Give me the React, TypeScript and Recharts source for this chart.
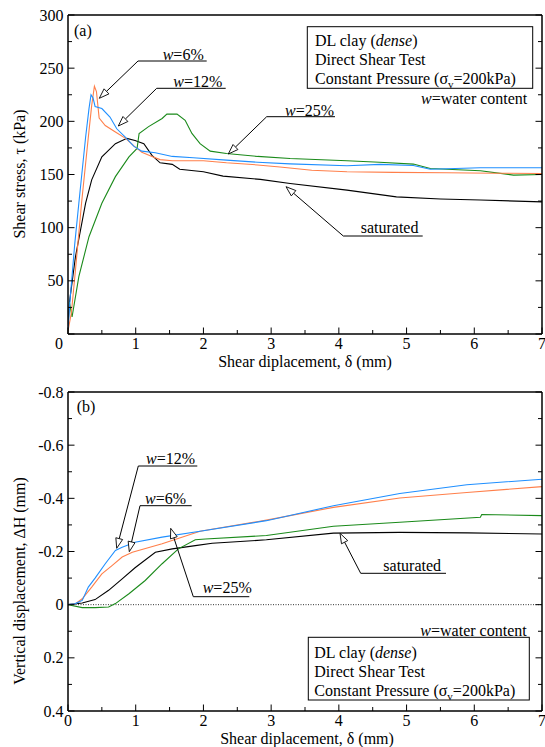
import { Line, LineChart, ReferenceLine, XAxis, YAxis } from "recharts";

const FONT = "'Liberation Serif', 'Times New Roman', serif";
const BLUE = "#1f8fff";
const ORANGE = "#ff7f4a";
const GREEN = "#1a8a1a";
const BLACK = "#000000";

// shared x ticks (major every 1 mm, minor every 0.5 mm)
const dispTicks = [0, 0.5, 1, 1.5, 2, 2.5, 3, 3.5, 4, 4.5, 5, 5.5, 6, 6.5, 7];
const tauTicks = [0, 25, 50, 75, 100, 125, 150, 175, 200, 225, 250, 275, 300];
const dhTicks = [-0.8, -0.7, -0.6, -0.5, -0.4, -0.3, -0.2, -0.1, 0, 0.1, 0.2, 0.3, 0.4];

// (a) shear stress vs shear displacement
const dispA6 = [0, 0.05, 0.11, 0.2, 0.3, 0.35, 0.39, 0.42, 0.46, 0.55, 0.7, 0.85, 0.99, 1.09, 1.24, 1.36, 1.54, 1.8, 2.0, 2.34, 2.8, 3.13, 3.6, 4.12, 4.8, 5.59, 6.3, 7];
const tau6 = [3, 20, 60, 123, 185, 215, 233, 228, 203, 196, 190, 184, 176, 171, 167, 164, 163, 163, 163, 161, 159, 157, 154, 152.6, 152, 151.6, 151.2, 151];

const dispA12 = [0, 0.03, 0.1, 0.16, 0.26, 0.31, 0.34, 0.37, 0.4, 0.5, 0.62, 0.72, 0.85, 0.97, 1.09, 1.29, 1.54, 1.85, 2.34, 2.8, 3.28, 4.12, 4.61, 5.1, 5.35, 6.09, 7];
const tau12 = [5, 32, 85, 123, 185, 212, 225, 222, 214, 212, 204, 193, 185, 176.7, 172, 170.4, 167, 165.7, 163.5, 161.5, 160, 158.2, 159.5, 158.5, 155, 156.3, 156.3];

const dispA25 = [0.02, 0.06, 0.16, 0.31, 0.5, 0.7, 0.9, 1.02, 1.05, 1.19, 1.39, 1.46, 1.61, 1.73, 1.83, 1.95, 2.1, 2.34, 2.8, 3.28, 4.12, 4.6, 5.1, 5.35, 6.09, 6.58, 7];
const tau25 = [30, 16, 54, 91.5, 123, 148, 166.6, 174.5, 188.6, 195, 202.7, 206.8, 206.8, 201, 188.6, 179, 172, 169.8, 167, 165, 163, 161.5, 159.8, 155.7, 153.5, 149.4, 150];

const dispASat = [0, 0.02, 0.11, 0.26, 0.35, 0.5, 0.7, 0.87, 0.99, 1.12, 1.24, 1.36, 1.54, 1.65, 2.0, 2.29, 2.84, 3.28, 4.12, 4.85, 5.5, 6.09, 7];
const tauSat = [5, 29, 72.6, 123, 145, 166.6, 179, 184, 182, 179, 168, 161, 159.5, 155, 152.6, 148.5, 145.4, 141.6, 135.3, 129, 127, 126, 124.3];

// (b) vertical displacement vs shear displacement
const dispB12 = [0, 0.1, 0.21, 0.3, 0.4, 0.55, 0.7, 0.8, 0.99, 1.39, 1.95, 2.93, 3.92, 4.9, 5.89, 7];
const dh12 = [0, -0.003, -0.016, -0.066, -0.1, -0.154, -0.204, -0.216, -0.235, -0.254, -0.276, -0.316, -0.372, -0.418, -0.451, -0.472];

const dispB6 = [0, 0.1, 0.21, 0.35, 0.5, 0.65, 0.8, 0.95, 1.39, 1.95, 2.93, 3.92, 4.9, 5.89, 7];
const dh6 = [0, -0.002, -0.022, -0.066, -0.116, -0.147, -0.179, -0.197, -0.229, -0.276, -0.318, -0.366, -0.401, -0.422, -0.444];

const dispB25 = [0, 0.21, 0.4, 0.6, 0.7, 0.9, 1.14, 1.39, 1.63, 1.88, 2.03, 2.93, 3.92, 4.9, 6.09, 6.11, 7];
const dh25 = [0, 0.011, 0.011, 0.009, -0.004, -0.041, -0.091, -0.154, -0.21, -0.244, -0.247, -0.26, -0.295, -0.31, -0.329, -0.339, -0.335];

const dispBSat = [0, 0.21, 0.4, 0.6, 0.8, 0.99, 1.29, 1.54, 1.88, 2.13, 2.93, 3.92, 4.9, 5.9, 7];
const dhSat = [0, -0.006, -0.019, -0.054, -0.097, -0.139, -0.197, -0.21, -0.222, -0.231, -0.244, -0.269, -0.272, -0.27, -0.266];

const toPoints = (xs: number[], ys: number[]) => xs.map((x, i) => ({ x, y: ys[i] }));

const isMajorX = (v: number) => Math.abs(v - Math.round(v)) < 1e-6;
const isMajorTau = (v: number) => v % 50 === 0;
const isMajorDh = (v: number) => Math.round(v * 10) % 2 === 0;

const MAJOR = 6.5;
const MINOR = 4;

function BottomTick(props: any) {
  const { x, y, payload, zeroDx } = props;
  const v = payload.value;
  const major = isMajorX(v);
  const len = major ? MAJOR : MINOR;
  const label = major ? String(v) : "";
  return (
    <g>
      <line x1={x} x2={x} y1={y} y2={y - len} stroke="#000" strokeWidth={1} />
      {label && (
        <text x={x + (v === 0 ? zeroDx : 0)} y={y + 14.5} textAnchor="middle" fontFamily={FONT} fontSize={16} fill="#000">
          {label}
        </text>
      )}
    </g>
  );
}

function TopTick(props: any) {
  const { x, y, payload } = props;
  const len = isMajorX(payload.value) ? MAJOR : MINOR;
  return <line x1={x} x2={x} y1={y} y2={y + len} stroke="#000" strokeWidth={1} />;
}

function LeftTick(props: any) {
  const { x, y, payload, kind } = props;
  const v = payload.value;
  const major = kind === "tau" ? isMajorTau(v) : isMajorDh(v);
  const len = major ? MAJOR : MINOR;
  let label = "";
  if (major) {
    if (kind === "tau") label = v === 0 ? "" : String(v);
    else label = v === 0 ? "0" : v.toFixed(1);
  }
  return (
    <g>
      <line x1={x} x2={x + len} y1={y} y2={y} stroke="#000" strokeWidth={1} />
      {label && (
        <text x={x - 4.5} y={y + 5.5} textAnchor="end" fontFamily={FONT} fontSize={16} fill="#000">
          {label}
        </text>
      )}
    </g>
  );
}

function RightTick(props: any) {
  const { x, y, payload, kind } = props;
  const v = payload.value;
  const major = kind === "tau" ? isMajorTau(v) : isMajorDh(v);
  const len = major ? MAJOR : MINOR;
  return <line x1={x} x2={x - len} y1={y} y2={y} stroke="#000" strokeWidth={1} />;
}

const axisLine = { stroke: "#000", strokeWidth: 1.5 };

function Arrow({ x1, y1, x2, y2 }: { x1: number; y1: number; x2: number; y2: number }) {
  const dx = x2 - x1;
  const dy = y2 - y1;
  const d = Math.hypot(dx, dy);
  const ux = dx / d;
  const uy = dy / d;
  const hl = 10;
  const hw = 3.5;
  const bx = x2 - ux * hl;
  const by = y2 - uy * hl;
  const pts = `${x2},${y2} ${bx - uy * hw},${by + ux * hw} ${bx + uy * hw},${by - ux * hw}`;
  return (
    <g>
      <line x1={x1} y1={y1} x2={bx} y2={by} stroke="#000" strokeWidth={1} />
      <polygon points={pts} fill="#fff" stroke="#000" strokeWidth={0.9} />
    </g>
  );
}

function Callout({ tx, ty, lx1, lx2, ly, ax, ay, children }: any) {
  return (
    <g>
      <text x={tx} y={ty} fontFamily={FONT} fontSize={16} fill="#000">
        {children}
      </text>
      <line x1={lx1} x2={lx2} y1={ly} y2={ly} stroke="#000" strokeWidth={1} />
      <Arrow x1={lx1} y1={ly} x2={ax} y2={ay} />
    </g>
  );
}

function InfoBox({ x, y, w, h, tx, lines }: any) {
  return (
    <g fontFamily={FONT} fontSize={16} fill="#000">
      <rect x={x} y={y} width={w} height={h} fill="#fff" stroke="#000" strokeWidth={1} />
      <text x={tx} y={lines[0]}>
        DL clay (<tspan fontStyle="italic">dense</tspan>)
      </text>
      <text x={tx} y={lines[1]}>Direct Shear Test</text>
      <text x={tx} y={lines[2]}>
        Constant Pressure (σ<tspan dy={4} fontSize={11}>v</tspan>
        <tspan dy={-4}>=200kPa)</tspan>
      </text>
    </g>
  );
}

const W = (n: string) => (
  <>
    <tspan fontStyle="italic">w</tspan>={n}
  </>
);

export default function App() {
  return (
    <div style={{ position: "absolute", left: 0, top: 0, width: 545, height: 747, background: "#fff" }}>
      <div style={{ position: "absolute", left: 0, top: 0 }}>
        <LineChart width={545} height={360} margin={{ top: 14, right: 0, bottom: 6, left: 8 }}>
          <XAxis
            dataKey="x"
            type="number"
            domain={[0, 7]}
            ticks={dispTicks}
            allowDataOverflow
            height={20}
            tickSize={0}
            tickMargin={0}
            tickLine={false}
            axisLine={axisLine}
            interval={0}
            tick={(p: any) => <BottomTick {...p} zeroDx={-9} />}
          />
          <XAxis
            xAxisId="top"
            orientation="top"
            type="number"
            domain={[0, 7]}
            ticks={dispTicks}
            allowDataOverflow
            height={1}
            tickSize={0}
            tickMargin={0}
            tickLine={false}
            axisLine={axisLine}
            interval={0}
            tick={(p: any) => <TopTick {...p} />}
          />
          <YAxis
            type="number"
            domain={[0, 300]}
            ticks={tauTicks}
            allowDataOverflow
            width={60}
            tickSize={0}
            tickMargin={0}
            tickLine={false}
            axisLine={axisLine}
            interval={0}
            tick={(p: any) => <LeftTick {...p} kind="tau" />}
          />
          <YAxis
            yAxisId="right"
            orientation="right"
            type="number"
            domain={[0, 300]}
            ticks={tauTicks}
            allowDataOverflow
            width={3}
            tickSize={0}
            tickMargin={0}
            tickLine={false}
            axisLine={axisLine}
            interval={0}
            tick={(p: any) => <RightTick {...p} kind="tau" />}
          />
          <Line data={toPoints(dispASat, tauSat)} dataKey="y" stroke={BLACK} strokeWidth={1.1} dot={false} isAnimationActive={false} />
          <Line data={toPoints(dispA25, tau25)} dataKey="y" stroke={GREEN} strokeWidth={1.1} dot={false} isAnimationActive={false} />
          <Line data={toPoints(dispA6, tau6)} dataKey="y" stroke={ORANGE} strokeWidth={1.1} dot={false} isAnimationActive={false} />
          <Line data={toPoints(dispA12, tau12)} dataKey="y" stroke={BLUE} strokeWidth={1.1} dot={false} isAnimationActive={false} />
        </LineChart>
      </div>
      <div style={{ position: "absolute", left: 0, top: 360 }}>
        <LineChart width={545} height={387} margin={{ top: 31, right: 0, bottom: 16, left: 8 }}>
          <XAxis
            dataKey="x"
            type="number"
            domain={[0, 7]}
            ticks={dispTicks}
            allowDataOverflow
            height={20}
            tickSize={0}
            tickMargin={0}
            tickLine={false}
            axisLine={axisLine}
            interval={0}
            tick={(p: any) => <BottomTick {...p} zeroDx={0} />}
          />
          <XAxis
            xAxisId="top"
            orientation="top"
            type="number"
            domain={[0, 7]}
            ticks={dispTicks}
            allowDataOverflow
            height={1}
            tickSize={0}
            tickMargin={0}
            tickLine={false}
            axisLine={axisLine}
            interval={0}
            tick={(p: any) => <TopTick {...p} />}
          />
          <YAxis
            type="number"
            domain={[-0.8, 0.4]}
            reversed
            ticks={dhTicks}
            allowDataOverflow
            width={60}
            tickSize={0}
            tickMargin={0}
            tickLine={false}
            axisLine={axisLine}
            interval={0}
            tick={(p: any) => <LeftTick {...p} kind="dh" />}
          />
          <YAxis
            yAxisId="right"
            orientation="right"
            type="number"
            domain={[-0.8, 0.4]}
            reversed
            ticks={dhTicks}
            allowDataOverflow
            width={3}
            tickSize={0}
            tickMargin={0}
            tickLine={false}
            axisLine={axisLine}
            interval={0}
            tick={(p: any) => <RightTick {...p} kind="dh" />}
          />
          <ReferenceLine y={0} stroke="#000" strokeWidth={0.8} strokeDasharray="1 1.5" />
          <Line data={toPoints(dispBSat, dhSat)} dataKey="y" stroke={BLACK} strokeWidth={1.1} dot={false} isAnimationActive={false} />
          <Line data={toPoints(dispB25, dh25)} dataKey="y" stroke={GREEN} strokeWidth={1.1} dot={false} isAnimationActive={false} />
          <Line data={toPoints(dispB6, dh6)} dataKey="y" stroke={ORANGE} strokeWidth={1.1} dot={false} isAnimationActive={false} />
          <Line data={toPoints(dispB12, dh12)} dataKey="y" stroke={BLUE} strokeWidth={1.1} dot={false} isAnimationActive={false} />
        </LineChart>
      </div>
      <svg width={545} height={747} style={{ position: "absolute", left: 0, top: 0, pointerEvents: "none" }}>
        {/* axis titles */}
        <text x={305} y={367} textAnchor="middle" fontFamily={FONT} fontSize={16}>
          Shear diplacement, δ (mm)
        </text>
        <text x={307} y={744} textAnchor="middle" fontFamily={FONT} fontSize={16}>
          Shear diplacement, δ (mm)
        </text>
        <text transform="translate(24.5,174) rotate(-90)" textAnchor="middle" fontFamily={FONT} fontSize={16}>
          Shear stress, τ (kPa)
        </text>
        <text transform="translate(24.5,581) rotate(-90)" textAnchor="middle" fontFamily={FONT} fontSize={16}>
          Vertical displacement, ΔH (mm)
        </text>

        {/* panel (a) */}
        <text x={74} y={35.5} fontFamily={FONT} fontSize={16}>(a)</text>
        <InfoBox x={307.3} y={26.7} w={225.4} h={61.6} tx={315} lines={[45.5, 65, 84]} />
        <text x={527.3} y={104} textAnchor="end" fontFamily={FONT} fontSize={16}>
          {W("water content")}
        </text>
        <Callout tx={162.7} ty={60} lx1={138} lx2={206.7} ly={61} ax={99.3} ay={98.3}>{W("6%")}</Callout>
        <Callout tx={173.3} ty={87} lx1={156.7} lx2={225.7} ly={88.3} ax={118.3} ay={126}>{W("12%")}</Callout>
        <Callout tx={285} ty={115.5} lx1={266.7} lx2={335} ly={116.7} ax={228.3} ay={154}>{W("25%")}</Callout>
        <Callout tx={360.7} ty={233} lx1={343.3} lx2={422.7} ly={236} ax={286} ay={186.7}>saturated</Callout>

        {/* panel (b) */}
        <text x={76.7} y={411.7} fontFamily={FONT} fontSize={16}>(b)</text>
        <text x={526.7} y={635.5} textAnchor="end" fontFamily={FONT} fontSize={16}>
          {W("water content")}
        </text>
        <InfoBox x={308.3} y={637.3} w={221} h={62.7} tx={314.3} lines={[658, 676.5, 695.5]} />
        <Callout tx={146} ty={464} lx1={138.3} lx2={197.3} ly={466} ax={116.7} ay={548.3}>{W("12%")}</Callout>
        <Callout tx={145} ty={504} lx1={140} lx2={191.7} ly={505.7} ax={129.3} ay={551.7}>{W("6%")}</Callout>
        <Callout tx={202.7} ty={593.3} lx1={193.3} lx2={249.3} ly={596.7} ax={170.7} ay={528.3}>{W("25%")}</Callout>
        <Callout tx={383.3} ty={570.7} lx1={360.7} lx2={446} ly={573.3} ax={340} ay={533.3}>saturated</Callout>
      </svg>
    </div>
  );
}
